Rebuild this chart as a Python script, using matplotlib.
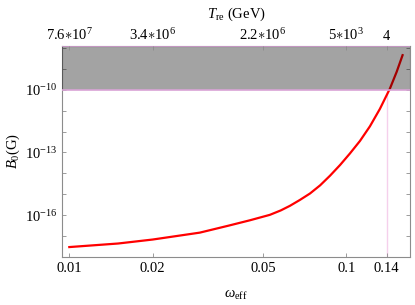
import matplotlib
matplotlib.use("Agg")
import matplotlib.pyplot as plt
import numpy as np

plt.rcParams["font.family"] = "Liberation Serif"
plt.rcParams["mathtext.fontset"] = "custom"
plt.rcParams["mathtext.rm"] = "Liberation Serif"
plt.rcParams["mathtext.it"] = "Liberation Serif:italic"
plt.rcParams["mathtext.bf"] = "Liberation Serif:bold"

# curve: omega_eff vs log10 B0
omega = [0.01, 0.015, 0.02, 0.0296, 0.0375, 0.0449, 0.053, 0.058, 0.0626, 0.068,
         0.074, 0.0805, 0.0874, 0.095, 0.1031, 0.1121, 0.1218, 0.1323, 0.1438,
         0.1521, 0.1598]
log_b0 = [-17.52, -17.35, -17.16, -16.83, -16.50, -16.24, -15.98, -15.77, -15.55, -15.27,
          -14.96, -14.57, -14.11, -13.60, -13.05, -12.45, -11.75, -10.92, -9.95,
          -9.15, -8.35]

bottom_ticks = [0.01, 0.02, 0.05, 0.1, 0.14]
bottom_labels = ["0.01", "0.02", "0.05", "0.1", "0.14"]
top_labels = [r"$7.6{\ast}10^{7}$", r"$3.4{\ast}10^{6}$", r"$2.2{\ast}10^{6}$",
              r"$5{\ast}10^{3}$", "4"]
y_label_exps = [-16, -13, -10]

bound = 1e-10
omega_cut = 0.14

frame = "#8c8c8c"
fs = 10.5

fig = plt.figure(figsize=(4.15, 3.05), dpi=100)
ax = fig.add_axes([0.150, 0.157, 0.838, 0.693])

ax.plot(omega, 10.0 ** np.array(log_b0), color="red", lw=1.6, zorder=2)

ax.set_xscale("log")
ax.set_yscale("log")
ax.set_xlim(0.00943, 0.170)
ax.set_ylim(1e-18, 10 ** -7.9)

# excluded band, drawn over the curve
ax.axhspan(bound, 1, color="black", alpha=0.36, lw=0, zorder=3)
ax.axhline(bound, color="#d9a3d6", lw=1.2, zorder=4)
ax.axhline(10 ** -7.9, color="#d9a3d6", lw=1.2, zorder=4)
ax.plot([omega_cut, omega_cut], [1e-18, bound], color="#f5d0ec", lw=1.0, zorder=1)

ax.set_xticks(bottom_ticks)
ax.set_xticklabels(bottom_labels)
ax.xaxis.set_minor_locator(matplotlib.ticker.NullLocator())
ax.set_yticks([10.0 ** e for e in range(-18, -7)])
ax.set_yticklabels(["$10^{%d}$" % e if e in y_label_exps else "" for e in range(-18, -7)])
ax.yaxis.set_minor_locator(matplotlib.ticker.NullLocator())
ax.tick_params(direction="in", length=3, colors=frame, labelcolor="black",
               labelsize=fs, right=True, width=0.6)

for s in ax.spines.values():
    s.set_color(frame)
    s.set_linewidth(0.8)

ax2 = ax.twiny()
ax2.set_xscale("log")
ax2.set_xlim(ax.get_xlim())
ax2.set_xticks(bottom_ticks)
ax2.set_xticklabels(top_labels)
ax2.xaxis.set_minor_locator(matplotlib.ticker.NullLocator())
ax2.tick_params(direction="in", length=3, colors=frame, labelcolor="black",
                labelsize=fs, width=0.6, pad=2)
for s in ax2.spines.values():
    s.set_visible(False)

ax.set_xlabel(r"$\omega_{\rm eff}$", fontsize=fs, labelpad=9)
ax.set_ylabel(r"$B_0\mathrm{(G)}$", fontsize=fs, labelpad=2)
ax2.set_xlabel(r"$T_{\rm re}$ (GeV)", fontsize=fs, labelpad=7)

fig.savefig("out.png", dpi=100)
